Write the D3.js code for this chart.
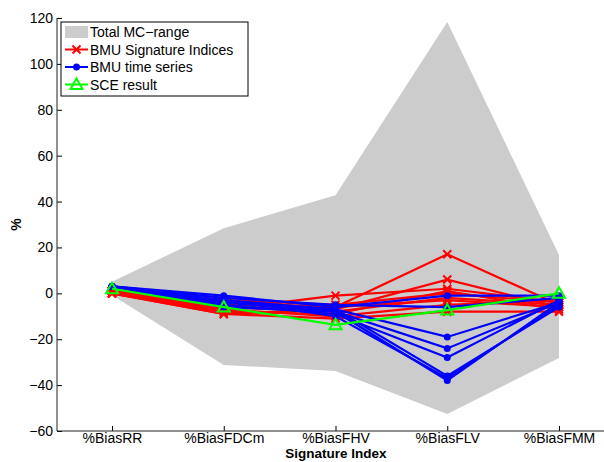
<!DOCTYPE html>
<html lang="en">
<head>
<meta charset="UTF-8" />
<title>Signature Index bias</title>
<script src="https://d3js.org/d3.v7.min.js"></script>
<style>
  body { margin: 0; background: #fff; }
  svg { display: block; font-family: "Liberation Sans", Arial, sans-serif; }
  .tick text { font-size: 14px; fill: #000; }
</style>
</head>
<body>
<svg width="604" height="462"></svg>
<script>
  // categories on the x axis
  const categories = ["%BiasRR", "%BiasFDCm", "%BiasFHV", "%BiasFLV", "%BiasFMM"];
  const yTicks = [-60, -40, -20, 0, 20, 40, 60, 80, 100, 120];

  // total Monte Carlo range (upper / lower envelope)
  const mcUpper = [5, 28.4, 42.8, 118.3, 16.7];
  const mcLower = [-0.8, -31.2, -33.9, -52.6, -28.2];

  // BMU signature indices (red)
  const bmuSignature = [
    [1, -5, -6, 17, -5],
    [0, -9, -7, 6, -6],
    [1, -7, -1, 2, -4],
    [0, -8, -9, 1, -7],
    [1, -6, -8, -2, -5],
    [0, -7, -10, -5, -3],
    [1, -4, -6, -3, -6],
    [0, -9, -11, -8, -8],
    [1, -3, -5, 0, -4]
  ];

  // BMU time series (blue)
  const bmuTimeSeries = [
    [3, -1, -6, -1, -1],
    [3, -3, -7, -19, -4],
    [3, -4, -8, -24, -4],
    [3, -5, -9, -28, -3],
    [3, -3, -10, -37, -5],
    [3, -6, -8, -38, -4],
    [3, -2, -5, -6, -2],
    [3, -4, -7, -36, -6]
  ];

  // SCE result (green)
  const sceResult = [2, -6, -13.7, -7.3, 0];

  const svg = d3.select("svg");
  const x = d3.scaleLinear().domain([1, 5]).range([112, 559]);
  const y = d3.scaleLinear().domain([-60, 120]).range([431, 18]);
  const xLeft = 57, xRight = 604;

  // grey MC range
  const area = d3.area()
    .x((d, i) => x(i + 1))
    .y0((d, i) => y(mcLower[i]))
    .y1(d => y(d));
  svg.append("path")
    .datum(mcUpper)
    .attr("d", area)
    .attr("fill", "#cccccc");

  const line = d3.line().x((d, i) => x(i + 1)).y(d => y(d));

  function crossPath(cx, cy, s) {
    return `M${cx - s},${cy - s}L${cx + s},${cy + s}M${cx - s},${cy + s}L${cx + s},${cy - s}`;
  }
  function triPath(cx, cy, s) {
    return `M${cx},${cy - s}L${cx + s},${cy + s * 0.75}L${cx - s},${cy + s * 0.75}Z`;
  }

  // red series
  const red = svg.append("g");
  bmuSignature.forEach(s => {
    red.append("path").attr("d", line(s)).attr("fill", "none")
      .attr("stroke", "#ff0000").attr("stroke-width", 2.2);
    s.forEach((v, i) => {
      red.append("path").attr("d", crossPath(x(i + 1), y(v), 4))
        .attr("stroke", "#ff0000").attr("stroke-width", 2);
    });
  });

  // blue series
  const blue = svg.append("g");
  bmuTimeSeries.forEach(s => {
    blue.append("path").attr("d", line(s)).attr("fill", "none")
      .attr("stroke", "#0000ff").attr("stroke-width", 2.2);
    s.forEach((v, i) => {
      blue.append("circle").attr("cx", x(i + 1)).attr("cy", y(v)).attr("r", 3.5)
        .attr("fill", "#0000ff");
    });
  });

  // green series
  const green = svg.append("g");
  green.append("path").attr("d", line(sceResult)).attr("fill", "none")
    .attr("stroke", "#00ff00").attr("stroke-width", 2.2);
  sceResult.forEach((v, i) => {
    green.append("path").attr("d", triPath(x(i + 1), y(v), 6))
      .attr("fill", "none").attr("stroke", "#00ff00").attr("stroke-width", 2);
  });

  // axes
  const yAxis = d3.axisLeft(y).tickValues(yTicks).tickSizeInner(-5).tickSizeOuter(0)
    .tickFormat(d => d < 0 ? "\u2212" + Math.abs(d) : d);
  const gy = svg.append("g").attr("transform", `translate(${xLeft},0)`).call(yAxis);
  gy.select(".domain").remove();
  gy.selectAll(".tick text").attr("x", -4);

  const xAxis = d3.axisBottom(x).tickValues([1, 2, 3, 4, 5])
    .tickFormat((d) => categories[d - 1]).tickSizeInner(-5).tickSizeOuter(0);
  const gx = svg.append("g").attr("transform", `translate(0,${y(-60)})`).call(xAxis);
  gx.select(".domain").remove();
  gx.selectAll(".tick text").attr("y", 2);

  svg.append("path")
    .attr("d", `M${xLeft},${y(120)}V${y(-60)}H${xRight}`)
    .attr("fill", "none").attr("stroke", "#222").attr("stroke-width", 1);

  // axis titles
  svg.append("text").attr("x", (xLeft + 615) / 2).attr("y", 458)
    .attr("text-anchor", "middle").attr("font-size", 13.5).attr("font-weight", "bold")
    .text("Signature Index");
  svg.append("text").attr("transform", `translate(21,${y(30)}) rotate(-90)`)
    .attr("text-anchor", "middle").attr("font-size", 14).attr("font-weight", "bold")
    .text("%");

  // legend
  const lg = svg.append("g").attr("transform", "translate(61,22)");
  lg.append("rect").attr("width", 187).attr("height", 74)
    .attr("fill", "#fff").attr("stroke", "#000").attr("stroke-width", 1);
  const legendItems = [
    { label: "Total MC\u2212range", type: "area" },
    { label: "BMU Signature Indices", type: "red" },
    { label: "BMU time series", type: "blue" },
    { label: "SCE result", type: "green" }
  ];
  legendItems.forEach((it, i) => {
    const cy = 10 + i * 17.5;
    const row = lg.append("g");
    if (it.type === "area") {
      row.append("rect").attr("x", 4).attr("y", cy - 6).attr("width", 23).attr("height", 12)
        .attr("fill", "#cccccc");
    } else {
      const col = it.type === "red" ? "#ff0000" : it.type === "blue" ? "#0000ff" : "#00ff00";
      row.append("line").attr("x1", 4).attr("x2", 27).attr("y1", cy).attr("y2", cy)
        .attr("stroke", col).attr("stroke-width", 2);
      if (it.type === "red") row.append("path").attr("d", crossPath(15.5, cy, 4)).attr("stroke", col).attr("stroke-width", 2);
      if (it.type === "blue") row.append("circle").attr("cx", 15.5).attr("cy", cy).attr("r", 3.5).attr("fill", col);
      if (it.type === "green") row.append("path").attr("d", triPath(15.5, cy, 6)).attr("fill", "none").attr("stroke", col).attr("stroke-width", 2);
    }
    row.append("text").attr("x", 29).attr("y", cy + 5).attr("font-size", 14).text(it.label);
  });
</script>
</body>
</html>
